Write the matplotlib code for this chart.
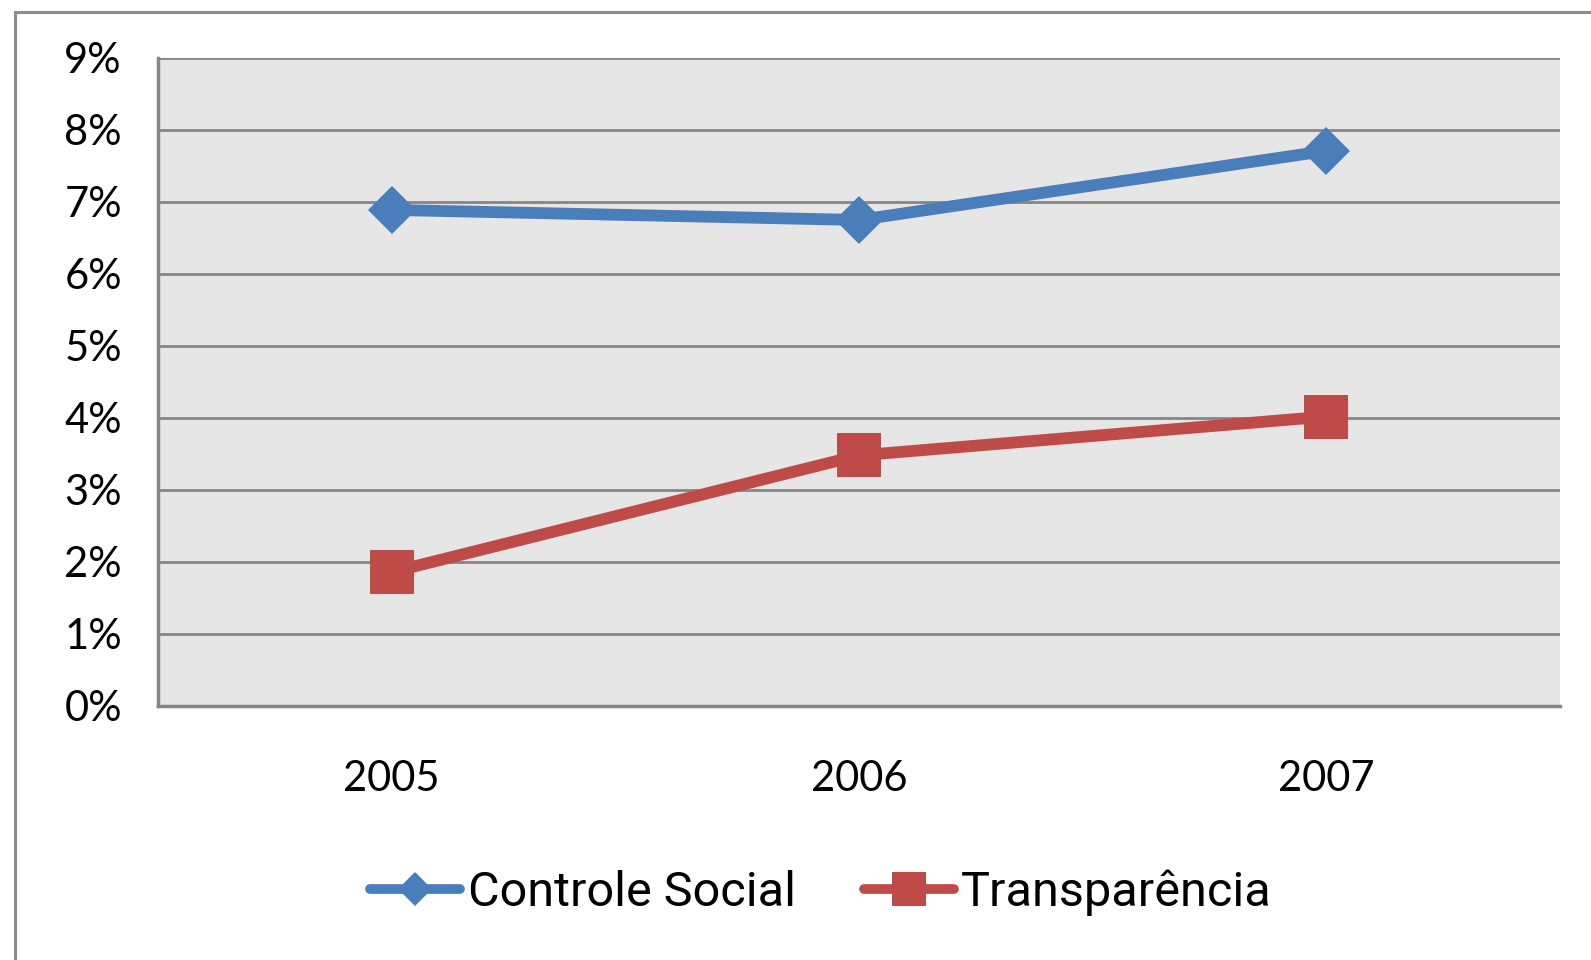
import matplotlib
matplotlib.use('Agg')
import matplotlib.pyplot as plt
from matplotlib.lines import Line2D
from matplotlib.patches import Rectangle
from matplotlib.ticker import FuncFormatter, MultipleLocator

anos = ['2005', '2006', '2007']
controle_social = [6.89, 6.75, 7.71]
transparencia = [1.86, 3.48, 4.02]

azul = '#4A7EBB'
vermelho = '#BE4B48'
cinza = '#868686'

fig = plt.figure(figsize=(15.91, 9.60), dpi=100)
ax = fig.add_axes([0.0993, 0.2646, 0.8812, 0.675])
ax.set_facecolor('#E6E6E6')

x = range(len(anos))
ax.plot(x, controle_social, color=azul, lw=8.5, marker='D', ms=24,
        markeredgewidth=0, solid_capstyle='round', zorder=3)
ax.plot(x, transparencia, color=vermelho, lw=8.5, marker='s', ms=32,
        markeredgewidth=0, solid_capstyle='round', zorder=3)

ax.set_xlim(-0.5, 2.5)
ax.set_ylim(0, 9)
ax.yaxis.set_major_locator(MultipleLocator(1))
ax.yaxis.set_major_formatter(FuncFormatter(lambda v, p: f'{v:.0f}%'))
ax.set_xticks(list(x))
ax.set_xticklabels(anos)

ax.grid(axis='y', color=cinza, lw=2)
ax.set_axisbelow(True)
for s in ['top', 'right']:
    ax.spines[s].set_visible(False)
for s in ['left', 'bottom']:
    ax.spines[s].set_color(cinza)
    ax.spines[s].set_linewidth(2.5)

fonte = ['Lato', 'DejaVu Sans']
ax.tick_params(axis='y', length=0, pad=26, labelsize=30)
ax.tick_params(axis='x', length=0, pad=39, labelsize=30)
for t in ax.get_xticklabels() + ax.get_yticklabels():
    t.set_family(fonte)

handles = [
    Line2D([], [], color=azul, lw=7, marker='D', ms=17, markeredgewidth=0,
           solid_capstyle='round'),
    Line2D([], [], color=vermelho, lw=7, marker='s', ms=24, markeredgewidth=0,
           solid_capstyle='round'),
]
fig.legend(handles, ['Controle Social', 'Transparência'], loc='center',
           bbox_to_anchor=(0.516, 0.0698), ncol=2, frameon=False,
           handlelength=1.85, handletextpad=0.15, columnspacing=1.4,
           prop={'family': ['Roboto', 'DejaVu Sans'], 'size': 35})

fig.add_artist(Rectangle((0.0094, -0.05), 1.2, 1.0375, transform=fig.transFigure,
                         fill=False, edgecolor='#8C8C8C', lw=2.2))

fig.savefig('out.png', dpi=100)
